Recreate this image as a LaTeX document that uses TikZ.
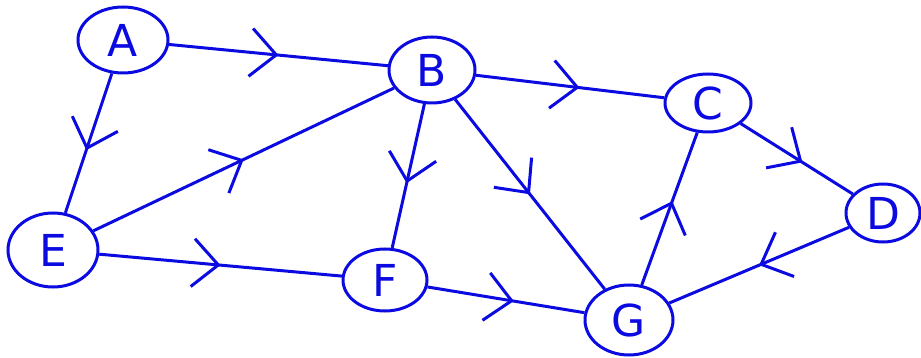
\documentclass[tikz,border=0pt]{standalone}
\usepackage{fontspec}
\setmainfont{DejaVu Sans}
\usetikzlibrary{shapes.geometric,decorations.markings,arrows.meta}
\definecolor{pen}{RGB}{10,10,225}
\tikzset{
  vert/.style={ellipse, draw=pen, line width=3pt, inner sep=0pt, text=pen, font=\fontsize{44}{44}\selectfont},
  edge/.style={draw=pen, line width=3pt,
    decoration={markings, mark=at position #1 with {\arrow{Straight Barb[length=16pt,width=30pt,line width=3pt,scale=1.6]}}},
    postaction={decorate}},
  edge/.default=0.5
}
\begin{document}
\begin{tikzpicture}[x=1pt,y=-1pt]
\useasboundingbox (0,0) rectangle (921,358);
\node[vert, minimum height=66pt, minimum width=90pt] (A) at (123,40) {A};
\node[vert, minimum height=66pt, minimum width=86pt] (B) at (432,70) {B};
\node[vert, minimum height=58pt, minimum width=86pt] (C) at (708,103) {C};
\node[vert, minimum height=58pt, minimum width=74pt] (D) at (883,213) {D};
\node[vert, minimum height=74pt, minimum width=90pt] (E) at (53,250) {E};
\node[vert, minimum height=62pt, minimum width=84pt] (F) at (385,280) {F};
\node[vert, minimum height=70pt, minimum width=88pt] (G) at (629,320) {G};
\draw[edge] (A) -- (B);
\draw[edge=0.55] (A) -- (E);
\draw[edge] (E) -- (B);
\draw[edge] (E) -- (F);
\draw[edge=0.55] (B) -- (F);
\draw[edge=0.55] (B) -- (C);
\draw[edge=0.5] (B) -- (G);
\draw[edge=0.55] (C) -- (D);
\draw[edge] (D) -- (G);
\draw[edge=0.55] (G) -- (C);
\draw[edge=0.55] (F) -- (G);
\end{tikzpicture}
\end{document}
